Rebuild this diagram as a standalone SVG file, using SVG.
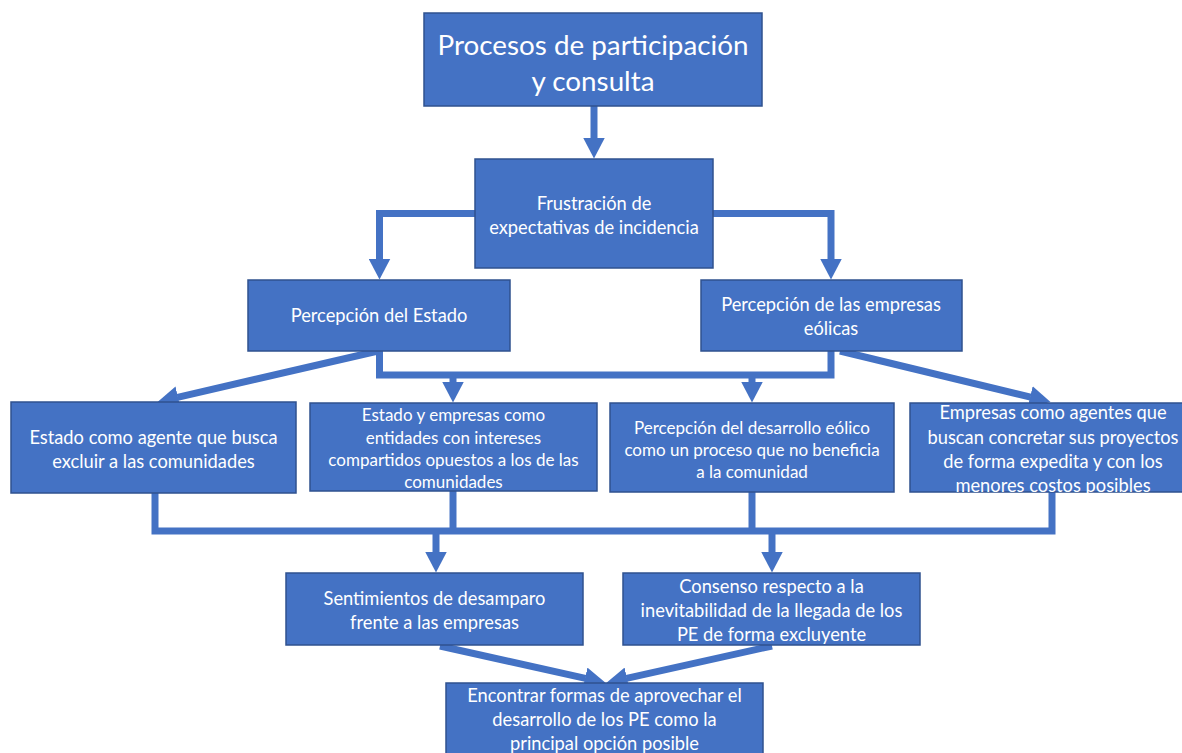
<svg xmlns="http://www.w3.org/2000/svg" width="1182" height="753" viewBox="0 0 1182 753">
<defs>
<style>
.box{fill:#4472C4;stroke:#2F528F;stroke-width:1.5}
.t{fill:#ffffff;font-family:Lato,"Liberation Sans",sans-serif;font-size:18.3px;text-anchor:middle;dominant-baseline:central}
.s{font-size:17px}
.big{font-size:27.8px}
.c{fill:none;stroke:#4472C4;stroke-width:7;stroke-linejoin:miter}
</style>
<marker id="ah" markerUnits="userSpaceOnUse" markerWidth="21" markerHeight="22" viewBox="0 0 21 22" refX="0.5" refY="11" orient="auto">
<path d="M0,0 L21,11 L0,22 Z" fill="#4472C4"/>
</marker>
</defs>
<rect width="1182" height="753" fill="#ffffff"/>
<g id="connectors">
<path class="c" d="M594,106 V138" marker-end="url(#ah)"/>
<path class="c" d="M475,213.5 H379.5 V259" marker-end="url(#ah)"/>
<path class="c" d="M713,213.5 H831 V259" marker-end="url(#ah)"/>
<path class="c" d="M379.5,351 V375 H831 V351"/>
<path class="c" d="M453,375 V382" marker-end="url(#ah)"/>
<path class="c" d="M752,375 V382" marker-end="url(#ah)"/>
<path class="c" d="M378,351 L177.5,397.3" marker-end="url(#ah)"/>
<path class="c" d="M840,351 L1030.6,397.1" marker-end="url(#ah)"/>
<path class="c" d="M155,493 V531 H1052 V492"/>
<path class="c" d="M453,491 V531"/>
<path class="c" d="M752,492 V531"/>
<path class="c" d="M436,531 V552" marker-end="url(#ah)"/>
<path class="c" d="M772,531 V552" marker-end="url(#ah)"/>
<path class="c" d="M440,646 L585.5,678.4" marker-end="url(#ah)"/>
<path class="c" d="M772,646 L626.5,678.4" marker-end="url(#ah)"/>
</g>
<g id="n1"><rect class="box" x="424" y="13" width="338" height="93"/>
<text class="t big" x="593" y="44">Procesos de participación</text>
<text class="t big" x="593" y="80">y consulta</text></g>
<g id="n2"><rect class="box" x="475" y="159" width="238" height="109"/>
<text class="t" x="594" y="203">Frustración de</text>
<text class="t" x="594" y="227">expectativas de incidencia</text></g>
<g id="n3"><rect class="box" x="248" y="280" width="262" height="71"/>
<text class="t" x="379" y="315">Percepción del Estado</text></g>
<g id="n4"><rect class="box" x="701" y="280" width="261" height="71"/>
<text class="t" x="831" y="304">Percepción de las empresas</text>
<text class="t" x="831" y="328">eólicas</text></g>
<g id="n5"><rect class="box" x="11" y="402" width="285" height="91"/>
<text class="t" x="153.5" y="437">Estado como agente que busca</text>
<text class="t" x="153.5" y="461">excluir a las comunidades</text></g>
<g id="n6"><rect class="box" x="310" y="403" width="287" height="88"/>
<text class="t s" x="453.5" y="414">Estado y empresas como</text>
<text class="t s" x="453.5" y="437">entidades con intereses</text>
<text class="t s" x="453.5" y="459">compartidos opuestos a los de las</text>
<text class="t s" x="453.5" y="481">comunidades</text></g>
<g id="n7"><rect class="box" x="610" y="403" width="284" height="89"/>
<text class="t s" x="752" y="427">Percepción del desarrollo eólico</text>
<text class="t s" x="752" y="449">como un proceso que no beneficia</text>
<text class="t s" x="752" y="471">a la comunidad</text></g>
<g id="n8"><rect class="box" x="910" y="403" width="280" height="89"/>
<text class="t" x="1053" y="412">Empresas como agentes que</text>
<text class="t" x="1053" y="437">buscan concretar sus proyectos</text>
<text class="t" x="1053" y="461">de forma expedita y con los</text>
<text class="t" x="1053" y="485">menores costos posibles</text></g>
<g id="n9"><rect class="box" x="286" y="573" width="297" height="72"/>
<text class="t" x="434.5" y="598">Sentimientos de desamparo</text>
<text class="t" x="434.5" y="622">frente a las empresas</text></g>
<g id="n10"><rect class="box" x="623" y="573" width="297" height="72"/>
<text class="t" x="771.5" y="586">Consenso respecto a la</text>
<text class="t" x="771.5" y="610">inevitabilidad de la llegada de los</text>
<text class="t" x="771.5" y="634">PE de forma excluyente</text></g>
<g id="n11"><rect class="box" x="446" y="683" width="317" height="80"/>
<text class="t" x="604.5" y="695">Encontrar formas de aprovechar el</text>
<text class="t" x="604.5" y="719">desarrollo de los PE como la</text>
<text class="t" x="604.5" y="743">principal opción posible</text></g>
</svg>
